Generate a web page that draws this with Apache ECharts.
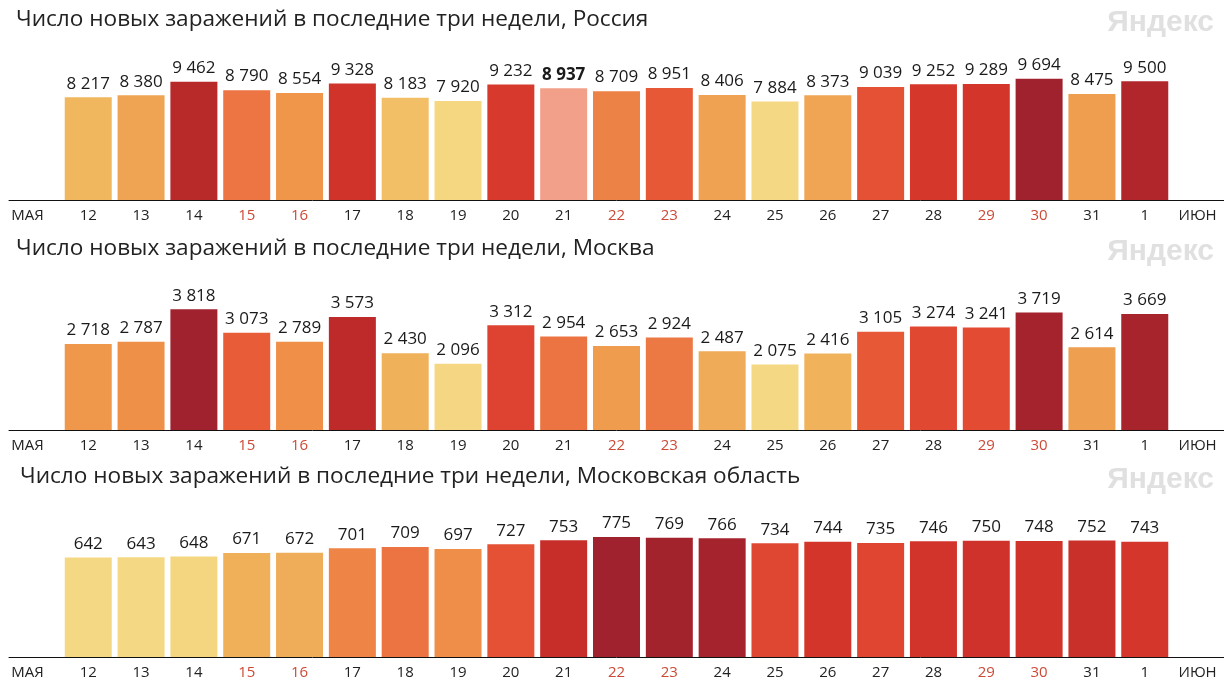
<!DOCTYPE html>
<html>
<head>
<meta charset="utf-8">
<script src="https://cdn.jsdelivr.net/npm/echarts@6/dist/echarts.min.js"></script>
<style>
html,body{margin:0;padding:0;background:#fff;}
#c{width:1224px;height:683px;}
</style>
</head>
<body>
<div id="c"></div>
<script>
// ---- data ----
const days = ['МАЯ','12','13','14','15','16','17','18','19','20','21','22','23','24','25','26','27','28','29','30','31','1','ИЮН'];
const weekendDays = ['15','16','22','23','29','30'];
const russia = [8217, 8380, 9462, 8790, 8554, 9328, 8183, 7920, 9232, 8937, 8709, 8951, 8406, 7884, 8373, 9039, 9252, 9289, 9694, 8475, 9500];
const moscow = [2718, 2787, 3818, 3073, 2789, 3573, 2430, 2096, 3312, 2954, 2653, 2924, 2487, 2075, 2416, 3105, 3274, 3241, 3719, 2614, 3669];
const oblast = [642, 643, 648, 671, 672, 701, 709, 697, 727, 753, 775, 769, 766, 734, 744, 735, 746, 750, 748, 752, 743];
const titles = [
  'Число новых заражений в последние три недели, Россия',
  'Число новых заражений в последние три недели, Москва',
  'Число новых заражений в последние три недели, Московская область'
];
const highlightDay = '21'; // highlighted bar in the Russia chart

// ---- styling helpers ----
const FONT = '"Open Sans", "Noto Sans", sans-serif';
const stops = [
  [0.00, '#f5d884'], [0.12, '#f5d27a'], [0.19, '#f0b45d'], [0.27, '#efa553'],
  [0.40, '#ef9249'], [0.50, '#ec7543'], [0.58, '#e85b36'], [0.68, '#e24a33'],
  [0.76, '#d5362b'], [0.82, '#cd312a'], [0.86, '#bd2a29'], [0.92, '#a6232d'],
  [1.00, '#a0222e']
];
function rampColor(t) {
  for (let i = 1; i < stops.length; i++) {
    if (t <= stops[i][0]) {
      const a = stops[i-1], b = stops[i];
      const f = (t - a[0]) / (b[0] - a[0]);
      return echarts.color.lerp(f, [a[1], b[1]]);
    }
  }
  return stops[stops.length-1][1];
}
function fmt(v) { return String(v).replace(/\B(?=(\d{3})+(?!\d))/g, ' '); }

const datasets = [russia, moscow, oblast];
const maxes = [10000, 4000, 800];
const grids = [
  {left: 9, width: 1221, top: 75, height: 125},
  {left: 9, width: 1221, top: 303.5, height: 126.5},
  {left: 9, width: 1221, top: 533, height: 124}
];

const xAxes = [], yAxes = [], series = [];
datasets.forEach((vals, gi) => {
  const mn = Math.min(...vals), mx = Math.max(...vals);
  xAxes.push({
    type: 'category', gridIndex: gi,
    data: days.map((d, i) => {
      const item = {value: d, textStyle: {color: weekendDays.includes(d) ? '#cc4a36' : '#222'}};
      if (i === 0) item.textStyle.padding = [0, 16, 0, 0];
      return item;
    }),
    axisLine: {show: true, lineStyle: {color: '#111', width: 1}},
    axisTick: {show: false},
    axisLabel: {fontSize: 15, fontFamily: FONT, margin: 8, interval: 0}
  });
  yAxes.push({
    type: 'value', gridIndex: gi, min: 0, max: maxes[gi],
    show: false, splitLine: {show: false}
  });
  series.push({
    type: 'bar', xAxisIndex: gi, yAxisIndex: gi,
    barWidth: 47,
    data: ['-'].concat(vals.map((v, i) => {
      const d = days[i + 1];
      const t = (v - mn) / (mx - mn);
      const special = gi === 0 && d === highlightDay;
      return {
        value: v,
        itemStyle: {color: special ? '#f3a08a' : rampColor(t)},
        label: special ? {fontWeight: 'bold'} : undefined
      };
    })).concat(['-']),
    label: {
      show: true, position: 'top', distance: 5,
      fontSize: 17, fontFamily: FONT, color: '#1a1a1a',
      formatter: p => fmt(p.value)
    },
    animation: false
  });
});

const titleTops = [3, 232, 460];
const titleLefts = [11, 11, 15];
const titleArr = [];
titles.forEach((t, i) => {
  titleArr.push({
    text: t, left: titleLefts[i], top: titleTops[i],
    textStyle: {fontSize: 22.6, fontWeight: 'normal', color: '#222', fontFamily: FONT}
  });
  titleArr.push({
    text: 'Яндекс', right: 5, top: titleTops[i],
    textStyle: {fontSize: 30, fontWeight: 'bold', color: '#e0e0e0', fontFamily: '"Liberation Sans", Arial, sans-serif'}
  });
});

const chart = echarts.init(document.getElementById('c'), null, {renderer: 'canvas'});
chart.setOption({
  animation: false,
  backgroundColor: '#fff',
  title: titleArr,
  grid: grids,
  xAxis: xAxes,
  yAxis: yAxes,
  series: series
});
</script>
</body>
</html>
